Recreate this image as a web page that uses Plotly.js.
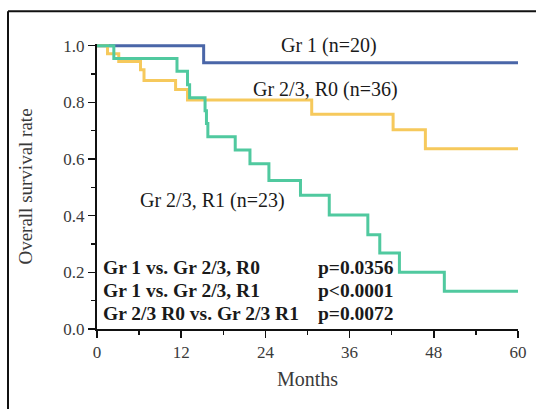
<!DOCTYPE html>
<html>
<head>
<meta charset="utf-8">
<script src="https://cdn.plot.ly/plotly-3.0.1.min.js"></script>
<style>
  html, body { margin: 0; padding: 0; background: #fff; }
  #chart { width: 536px; height: 409px; }
</style>
</head>
<body>
<div id="chart"></div>
<script>
// Kaplan-Meier step data (months, survival)
const gr1Months = [0, 15.2, 60];
const gr1Surv   = [1.0, 0.94, 0.94];

const r0Months = [0, 1.5, 3.1, 6.2, 6.7, 11.2, 12.9, 30.6, 42.2, 46.8, 60];
const r0Surv   = [1.0, 0.972, 0.944, 0.915, 0.877, 0.845, 0.808, 0.758, 0.703, 0.636, 0.636];

const r1Months = [0, 2.4, 11.4, 12.9, 13.2, 15.4, 15.6, 15.8, 19.7, 21.8, 24.5, 29.0, 33.1, 38.6, 40.3, 43.1, 49.5, 60];
const r1Surv   = [1.0, 0.955, 0.91, 0.862, 0.816, 0.77, 0.725, 0.679, 0.632, 0.583, 0.524, 0.472, 0.402, 0.333, 0.268, 0.2, 0.133, 0.133];

const xTicks = [0, 12, 24, 36, 48, 60];
const yTicks = [0, 0.2, 0.4, 0.6, 0.8, 1.0];
const yTickLabels = ['0.0', '0.2', '0.4', '0.6', '0.8', '1.0'];

const comparisons = ['Gr 1 vs. Gr 2/3, R0', 'Gr 1 vs. Gr 2/3, R1', 'Gr 2/3 R0 vs. Gr 2/3 R1'];
const pValues = ['p=0.0356', 'p<0.0001', 'p=0.0072'];

const serif = 'Liberation Serif, Times New Roman, serif';

const traces = [
  { x: gr1Months, y: gr1Surv, mode: 'lines', line: { shape: 'hv', color: '#4a66a8', width: 3 }, name: 'Gr 1 (n=20)' },
  { x: r0Months, y: r0Surv, mode: 'lines', line: { shape: 'hv', color: '#f6c95c', width: 3 }, name: 'Gr 2/3, R0 (n=36)' },
  { x: r1Months, y: r1Surv, mode: 'lines', line: { shape: 'hv', color: '#50c99f', width: 3 }, name: 'Gr 2/3, R1 (n=23)' }
];

const annotations = [
  { x: 33.1, y: 1.0, text: 'Gr 1 (n=20)', xanchor: 'center', yanchor: 'middle', font: { size: 20 } },
  { x: 32.6, y: 0.846, text: 'Gr 2/3, R0 (n=36)', xanchor: 'center', yanchor: 'middle', font: { size: 20 } },
  { x: 16.4, y: 0.454, text: 'Gr 2/3, R1 (n=23)', xanchor: 'center', yanchor: 'middle', font: { size: 20 } }
];
comparisons.forEach((c, i) => {
  annotations.push({ x: 0.55, y: 0.216 - i * 0.081, text: '<b>' + c + '</b>', xanchor: 'left', yanchor: 'middle', font: { size: 19.5 } });
  annotations.push({ x: 31.2, y: 0.216 - i * 0.081, text: '<b>' + pValues[i] + '</b>', xanchor: 'left', yanchor: 'middle', font: { size: 19.5 } });
});
annotations.forEach(a => { a.showarrow = false; a.xref = 'x'; a.yref = 'y'; a.font.family = serif; a.font.color = '#1a1a1a'; });

const layout = {
  width: 536, height: 409,
  margin: { l: 97, r: 18, t: 44, b: 80 },
  paper_bgcolor: '#fff', plot_bgcolor: '#fff',
  showlegend: false,
  font: { family: serif, color: '#333' },
  xaxis: {
    range: [0, 60], tickvals: xTicks, ticktext: xTicks.map(String),
    showgrid: false, zeroline: false, showline: true, linecolor: '#111', linewidth: 2,
    ticks: 'outside', ticklen: 7, tickwidth: 1.5, tickcolor: '#111',
    minor: { dtick: 6, tick0: 0, ticks: 'outside', ticklen: 4, tickwidth: 1.5, tickcolor: '#111', showgrid: false },
    tickfont: { family: serif, size: 17, color: '#3a3a3a' },
    title: { text: 'Months', font: { family: serif, size: 20, color: '#3a3a3a' }, standoff: 11 },
    fixedrange: true
  },
  yaxis: {
    range: [0, 1.006], tickvals: yTicks, ticktext: yTickLabels,
    showgrid: false, zeroline: false, showline: true, linecolor: '#111', linewidth: 2,
    ticks: 'outside', ticklen: 7, tickwidth: 1.5, tickcolor: '#111',
    minor: { dtick: 0.1, tick0: 0, ticks: 'outside', ticklen: 4, tickwidth: 1.5, tickcolor: '#111', showgrid: false },
    tickfont: { family: serif, size: 17, color: '#3a3a3a' },
    title: { text: 'Overall survival rate', font: { family: serif, size: 19, color: '#3a3a3a' }, standoff: 26 },
    fixedrange: true
  },
  annotations: annotations,
  shapes: [
    { type: 'line', xref: 'paper', yref: 'paper', x0: -0.2114, x1: 1.1, y0: 1.1148, y1: 1.1148, line: { color: '#111', width: 2 } },
    { type: 'line', xref: 'paper', yref: 'paper', x0: -0.2114, x1: -0.2114, y0: -0.35, y1: 1.1148, line: { color: '#111', width: 2 } }
  ]
};

Plotly.newPlot('chart', traces, layout, { displayModeBar: false, staticPlot: true });
</script>
</body>
</html>
